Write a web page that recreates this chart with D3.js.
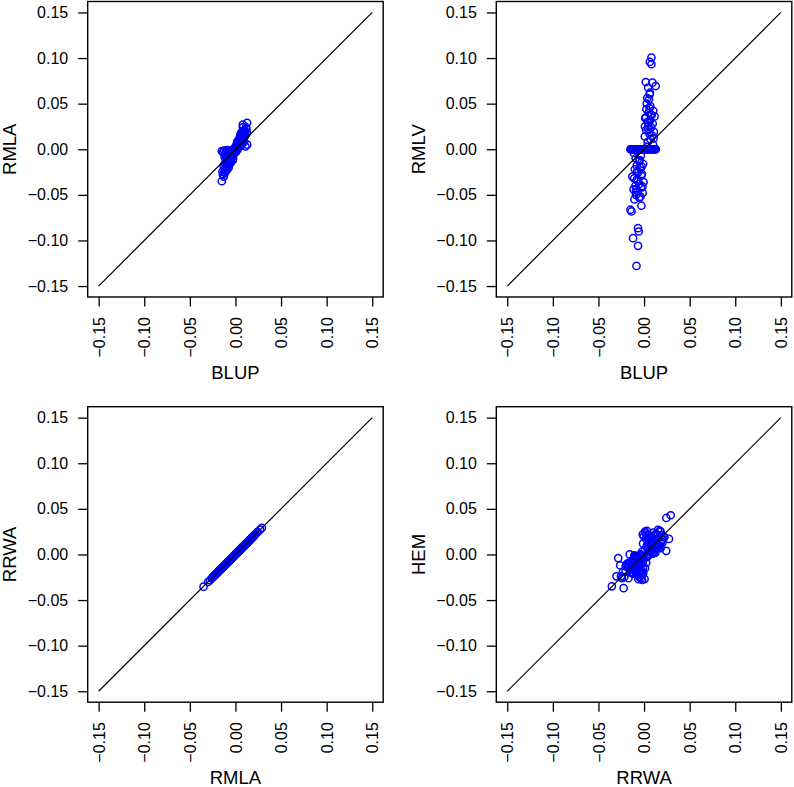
<!DOCTYPE html>
<html><head><meta charset="utf-8">
<script src="https://cdn.jsdelivr.net/npm/d3@7"></script>
<style>
body{margin:0;background:#fff}
svg{display:block}
text{font-family:"Liberation Sans",Arial,Helvetica,sans-serif;fill:#000}
</style>
</head><body>
<svg id="c" width="794" height="787"></svg>
<script>
// Marker effect estimates by method (one entry per marker)
const BLUP=[-0.0150,-0.0142,-0.0136,-0.0130,-0.0124,-0.0118,-0.0110,-0.0104,-0.0098,-0.0090,-0.0084,-0.0076,-0.0070,-0.0062,-0.0054,-0.0046,-0.0038,-0.0030,-0.0022,-0.0014,-0.0006,0.0002,0.0010,0.0018,0.0026,0.0034,0.0042,0.0050,0.0058,0.0066,0.0074,0.0082,0.0090,0.0100,0.0110,0.0122,0.0129,0.0126,
 0.0081,0.0063,0.0081,0.0019,0.0092,0.0128,0.0044,0.0063,0.0055,0.0030,0.0070,0.0025,0.0100,0.0050,0.0085,0.0115,0.0012,0.0068,0.0038,0.0095,0.0048,0.0078,0.0022,0.0108,0.0059,0.0008,0.0072,0.0040,0.0098,0.0033,
 -0.0083,-0.0066,-0.0121,-0.0058,-0.0066,-0.0149,-0.0138,-0.0029,-0.0105,-0.0040,-0.0088,-0.0015,-0.0070,-0.0115,-0.0032,-0.0095,-0.0050,-0.0005,-0.0078,-0.0128,-0.0024,-0.0060,-0.0100,-0.0044,-0.0080,-0.0010,-0.0055,-0.0092,-0.0036,-0.0112,
 -0.0120,-0.0100,-0.0080,-0.0060,-0.0050,-0.0040,-0.0030,-0.0020,-0.0010,0.0000,0.0006,0.0015,0.0022,0.0030,0.0038,0.0046,0.0054,0.0062,0.0080,0.0095,
 0.0020,0.0045,0.0060,0.0075,0.0035,0.0052,0.0088,0.0010,0.0105,0.0065,
 -0.0030,-0.0068,-0.0090,-0.0018,-0.0052,-0.0074,-0.0048,-0.0108,-0.0026,-0.0086];
const RMLA=[-0.0020,-0.0245,-0.0030,-0.0180,-0.0015,-0.0220,-0.0060,-0.0025,-0.0150,-0.0010,-0.0120,-0.0040,-0.0090,-0.0020,-0.0070,-0.0100,-0.0030,-0.0055,-0.0010,-0.0040,0.0005,-0.0015,0.0025,0.0040,0.0010,0.0070,0.0050,0.0110,0.0080,0.0135,0.0060,0.0170,0.0100,0.0200,0.0030,0.0220,0.0050,0.0180,
 0.0270,0.0180,0.0240,0.0060,0.0200,0.0290,0.0120,0.0150,0.0090,0.0080,0.0140,0.0040,0.0210,0.0100,0.0160,0.0240,0.0020,0.0125,0.0075,0.0190,0.0065,0.0185,0.0050,0.0150,0.0115,0.0015,0.0095,0.0030,0.0140,0.0055,
 -0.0180,-0.0140,-0.0250,-0.0120,-0.0160,-0.0350,-0.0280,-0.0080,-0.0200,-0.0060,-0.0220,-0.0020,-0.0130,-0.0260,-0.0045,-0.0170,-0.0100,0.0010,-0.0110,-0.0300,-0.0065,-0.0085,-0.0230,-0.0035,-0.0155,-0.0030,-0.0060,-0.0135,-0.0095,-0.0165,
 -0.0080,-0.0100,-0.0060,-0.0130,-0.0040,-0.0010,-0.0080,-0.0025,0.0010,0.0030,-0.0030,0.0060,-0.0005,0.0090,0.0030,0.0085,0.0140,0.0040,0.0120,0.0080,
 0.0085,0.0100,0.0070,0.0130,0.0045,0.0155,0.0110,0.0035,0.0180,0.0165,
 -0.0120,-0.0090,-0.0190,-0.0050,-0.0150,-0.0200,-0.0020,-0.0120,-0.0105,-0.0075];
const RRWA=[-0.0022,-0.0243,-0.0031,-0.0176,-0.0014,-0.0218,-0.0062,-0.0023,-0.0151,-0.0012,-0.0118,-0.0041,-0.0093,-0.0019,-0.0072,-0.0102,-0.0031,-0.0053,-0.0009,-0.0042,0.0006,-0.0014,0.0024,0.0041,0.0011,0.0072,0.0048,0.0113,0.0079,0.0134,0.0061,0.0172,0.0101,0.0203,0.0032,0.0224,0.0051,0.0182,
 0.0273,0.0182,0.0244,0.0061,0.0201,0.0292,0.0122,0.0153,0.0088,0.0082,0.0138,0.0041,0.0212,0.0101,0.0162,0.0243,0.0021,0.0124,0.0077,0.0191,0.0066,0.0187,0.0052,0.0152,0.0117,0.0016,0.0094,0.0031,0.0142,0.0054,
 -0.0182,-0.0141,-0.0253,-0.0118,-0.0162,-0.0353,-0.0283,-0.0081,-0.0202,-0.0062,-0.0224,-0.0021,-0.0132,-0.0262,-0.0044,-0.0171,-0.0103,0.0011,-0.0112,-0.0302,-0.0066,-0.0084,-0.0231,-0.0036,-0.0157,-0.0032,-0.0061,-0.0134,-0.0097,-0.0163,
 -0.0081,-0.0102,-0.0061,-0.0132,-0.0041,-0.0011,-0.0082,-0.0026,0.0011,0.0031,-0.0031,0.0062,-0.0004,0.0091,0.0032,0.0087,0.0141,0.0041,0.0122,0.0081,
 0.0086,0.0102,0.0071,0.0133,0.0046,0.0157,0.0111,0.0036,0.0183,0.0166,
 -0.0121,-0.0091,-0.0193,-0.0051,-0.0151,-0.0202,-0.0021,-0.0122,-0.0107,-0.0076];
const RMLV=[0,0,0,0,0,0,0,0,0,0,0,0,0,0,0,0,0,0,0,0,0,0,0,0,0,0,0,0,0,0,0,0,0,0,0,0,0,0,
 0.1005,0.0957,0.0932,0.0737,0.0730,0.0693,0.0675,0.0602,0.0547,0.0500,0.0470,0.0440,0.0420,0.0400,0.0375,0.0360,0.0340,0.0320,0.0300,0.0280,0.0260,0.0240,0.0210,0.0190,0.0170,0.0140,0.0110,0.0080,0.0050,0.0030,
 -0.1279,-0.1059,-0.0975,-0.0902,-0.0865,-0.0663,-0.0682,-0.0619,-0.0550,-0.0520,-0.0500,-0.0480,-0.0460,-0.0440,-0.0420,-0.0400,-0.0380,-0.0360,-0.0330,-0.0300,-0.0270,-0.0250,-0.0220,-0.0200,-0.0180,-0.0160,-0.0130,-0.0100,-0.0070,-0.0040,
 0,0,0,0,0,0,0,0,0,0,0,0,0,0,0,0,0,0,0,0,
 0.0350,0.0220,0.0450,0.0380,0.0560,0.0290,0.0150,0.0250,0.0120,0.0620,
 -0.0290,-0.0350,-0.0470,-0.0410,-0.0530,-0.0240,-0.0120,-0.0320,-0.0190,-0.0440];
const HEM=[-0.003,-0.026,-0.001,-0.014,-0.008,-0.025,-0.010,0.003,-0.020,-0.015,-0.006,-0.018,-0.012,-0.022,-0.002,-0.016,-0.026,-0.004,-0.020,-0.001,-0.027,0.022,-0.009,0.018,0.025,0.006,0.012,0.003,0.020,0.009,0.015,0.026,0.001,0.013,0.010,0.019,-0.001,0.007,
 0.017,0.025,0.040,0.020,0.016,0.043,0.010,0.027,0.005,0.014,0.022,0.003,0.019,0.024,0.008,0.004,0.017,0.002,0.011,0.021,0.006,0.013,0.001,0.009,0.016,0.023,0.012,0.026,0.007,0.018,
 -0.010,-0.020,-0.024,-0.005,-0.014,-0.035,-0.004,-0.022,-0.013,-0.027,-0.037,-0.028,-0.008,-0.012,-0.018,-0.026,-0.002,-0.015,-0.021,-0.024,-0.006,-0.017,-0.019,-0.011,0.000,-0.023,-0.007,-0.016,-0.003,-0.009,
 -0.004,-0.009,-0.013,-0.020,0.000,0.012,-0.014,-0.010,0.005,-0.003,-0.017,0.014,0.020,0.002,0.008,0.017,0.011,0.000,0.022,0.004,
 0.012,0.015,0.009,0.020,0.004,0.018,0.006,0.021,0.014,0.010,
 -0.015,-0.020,-0.011,-0.025,-0.009,-0.018,-0.005,-0.021,-0.001,-0.014];

const tickValues=[-0.15,-0.10,-0.05,0.00,0.05,0.10,0.15];
const identityLine=[-0.15,0.15];
const domain=[-0.162,0.162];

const panels=[
  {x:BLUP,y:RMLA,xl:"BLUP",yl:"RMLA",col:0,row:0},
  {x:BLUP,y:RMLV,xl:"BLUP",yl:"RMLV",col:1,row:0},
  {x:RMLA,y:RRWA,xl:"RMLA",yl:"RRWA",col:0,row:1},
  {x:RRWA,y:HEM,xl:"RRWA",yl:"HEM",col:1,row:1}
];

const boxLeft=[87.7,496.3], boxTop=[1.5,406.7], S=295.5;
const svg=d3.select("#c");
const fmt=d3.format(".2f");
const TICK_FS=16, TITLE_FS=18.5;

panels.forEach(p=>{
  const L=boxLeft[p.col], T=boxTop[p.row];
  const xs=d3.scaleLinear().domain(domain).range([L,L+S]);
  const ys=d3.scaleLinear().domain(domain).range([T+S,T]);
  const g=svg.append("g");

  g.append("g").selectAll("circle").data(p.x.map((v,i)=>[v,p.y[i]])).join("circle")
    .attr("cx",d=>xs(d[0])).attr("cy",d=>ys(d[1])).attr("r",3.6)
    .attr("fill","none").attr("stroke","#0000ff").attr("stroke-width",1.5);

  g.append("line")
    .attr("x1",xs(identityLine[0])).attr("y1",ys(identityLine[0]))
    .attr("x2",xs(identityLine[1])).attr("y2",ys(identityLine[1]))
    .attr("stroke","#000").attr("stroke-width",1.2);

  g.append("rect").attr("x",L).attr("y",T).attr("width",S).attr("height",S)
    .attr("fill","none").attr("stroke","#000").attr("stroke-width",1.4);

  const xa=g.append("g").attr("transform",`translate(0,${T+S})`)
    .call(d3.axisBottom(xs).tickValues(tickValues).tickSize(9.5).tickFormat(fmt));
  xa.select(".domain").remove();
  xa.selectAll("line").attr("stroke","#000").attr("stroke-width",1.3);
  xa.selectAll("text").attr("font-size",TICK_FS).attr("fill","#000")
    .attr("transform","rotate(-90)").attr("x",-20).attr("y",0).attr("dy","0.35em")
    .attr("text-anchor","end");

  const ya=g.append("g").attr("transform",`translate(${L},0)`)
    .call(d3.axisLeft(ys).tickValues(tickValues).tickSize(9.5).tickPadding(10).tickFormat(fmt));
  ya.select(".domain").remove();
  ya.selectAll("line").attr("stroke","#000").attr("stroke-width",1.3);
  ya.selectAll("text").attr("font-size",TICK_FS).attr("fill","#000");

  g.append("text").attr("x",L+S/2).attr("y",T+S+81.5).attr("text-anchor","middle")
    .attr("font-size",TITLE_FS).text(p.xl);
  g.append("text").attr("transform",`translate(${L-71.7},${T+S/2}) rotate(-90)`)
    .attr("text-anchor","middle").attr("font-size",TITLE_FS).text(p.yl);
});
</script>
</body></html>
